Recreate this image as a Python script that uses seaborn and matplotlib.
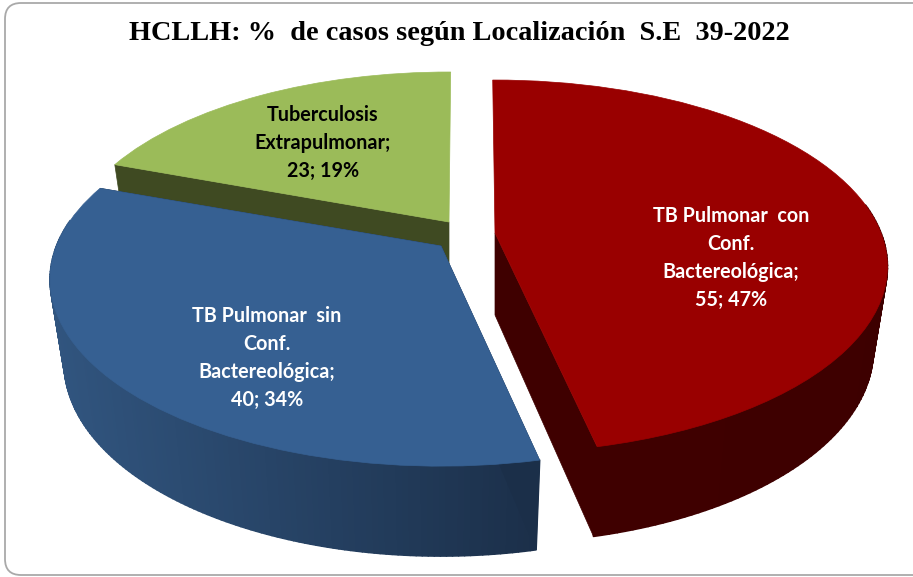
import matplotlib
matplotlib.use("Agg")
import matplotlib.pyplot as plt
import numpy as np
import seaborn as sns
from matplotlib.collections import PolyCollection
from matplotlib.colors import LinearSegmentedColormap
from matplotlib.patches import FancyBboxPatch
from matplotlib.transforms import Transform

sns.set_theme(style="white")

# Data
categories = ["TB Pulmonar  con\nConf.\nBactereológica",
              "TB Pulmonar  sin\nConf.\nBactereológica",
              "Tuberculosis\nExtrapulmonar"]
counts = [55, 40, 23]
percents = [47, 34, 19]
title = "HCLLH: %  de casos según Localización  S.E  39-2022"

# Styling
top_colors = ["#990000", "#366092", "#9bbb59"]
side_left = ["#3f0000", "#31557f", "#3f4a22"]
side_right = ["#3a0000", "#1b2f49", "#3f4a22"]
label_colors = ["white", "white", "black"]
label_pos = [(731, 258), (267, 358), (323, 143)]
apex = [(495, 233), (441, 246), (449, 222)]
widths = [386.0, 384.5, 378.0]
heights = [180.5, 180.5, 177.0]
turns = [0.4, 0.0, -0.3]


def project(u, v, vx, vy, a, b, k, dy, turn):
    """Unit pie coordinates to pixels, far side compressed."""
    c, s = np.cos(np.radians(turn)), np.sin(np.radians(turn))
    u, v = c * u - s * v, s * u + c * v
    w = 1 + k * v
    return vx + b * u / w, vy + dy - a * v / w


class Tilt(Transform):
    input_dims = output_dims = 2

    def __init__(self, vx, vy, plane):
        super().__init__()
        self.vx, self.vy, self.plane = vx, vy, plane

    def transform_non_affine(self, values):
        x, y = project(values[:, 0], values[:, 1], self.vx, self.vy, **self.plane)
        return np.column_stack([x, y])


fig, ax = plt.subplots(figsize=(9.13, 5.77), dpi=100)
fig.subplots_adjust(0, 0, 1, 1)

wedges, _ = ax.pie(counts, colors=top_colors, startangle=90, counterclock=False)
ax.set_aspect("auto")
ax.set_xlim(0, 913)
ax.set_ylim(577, 0)
ax.axis("off")

ax.add_patch(FancyBboxPatch((5, 3), 960, 572, boxstyle="round,pad=0,rounding_size=16",
                            fc="white", ec="#a9a9a9", lw=1.3, zorder=0))

# painter's order: green at the back, then blue, then red
for i in [2, 1, 0]:
    wedge = wedges[i]
    vx, vy = apex[i]
    t1, t2 = np.radians(wedge.theta1), np.radians(wedge.theta2)
    z = {2: 2, 1: 4, 0: 6}[i]
    top = dict(a=heights[i], b=widths[i], k=0.18, dy=0.0, turn=turns[i])
    bottom = dict(a=heights[i] * 1.036, b=widths[i] * 0.964, k=0.18, dy=82.0, turn=turns[i])

    # outer wall as thin strips, so the shading can run along the arc
    ang = np.linspace(t1, t2, 160)
    xt, yt = project(np.cos(ang), np.sin(ang), vx, vy, **top)
    xb, yb = project(np.cos(ang), np.sin(ang), vx, vy, **bottom)
    strips = [[(xt[j], yt[j]), (xt[j + 1], yt[j + 1]), (xb[j + 1], yb[j + 1]), (xb[j], yb[j])]
              for j in range(len(ang) - 1)]
    cmap = LinearSegmentedColormap.from_list("wall", [side_left[i], side_right[i]])
    shade = cmap((xt[:-1] - 50) / 490) if i == 1 else cmap(np.linspace(0, 1, len(strips)))
    keep = [s for s, a in zip(strips, ang[:-1]) if np.sin(a) < 0.15]
    keep_c = [c for c, a in zip(shade, ang[:-1]) if np.sin(a) < 0.15]
    ax.add_collection(PolyCollection(keep, facecolors=keep_c, edgecolors=keep_c, lw=1.2, zorder=z))

    # cut faces from apex to rim, the one pointing away is left out
    for t in (t1, t2):
        if np.sin(t) > 0.9:
            continue
        xa, ya = project(0.0, 0.0, vx, vy, **top)
        xc, yc = project(0.0, 0.0, vx, vy, **bottom)
        xr, yr = project(np.cos(t), np.sin(t), vx, vy, **top)
        xs, ys = project(np.cos(t), np.sin(t), vx, vy, **bottom)
        col = side_left[i] if i != 1 else side_right[i]
        ax.fill([xa, xr, xs, xc], [ya, yr, ys, yc], fc=col, ec=col, lw=0.5, zorder=z + 0.5)

    wedge.set_transform(Tilt(vx, vy, top) + ax.transData)
    wedge.set_zorder(z + 1)
    wedge.set_edgecolor(top_colors[i])
    wedge.set_linewidth(0.5)

for cat, n, pct, (lx, ly), col in zip(categories, counts, percents, label_pos, label_colors):
    ax.text(lx, ly, f"{cat};\n{n}; {pct}%", ha="center", va="center", color=col, fontsize=14.2,
            fontfamily="Lato", fontweight="bold", linespacing=1.5, zorder=10)

ax.text(459, 33, title, ha="center", va="center", color="black", fontsize=20.3,
        fontfamily="Liberation Serif", fontweight="bold", zorder=10)

fig.savefig("out.png", dpi=100)
